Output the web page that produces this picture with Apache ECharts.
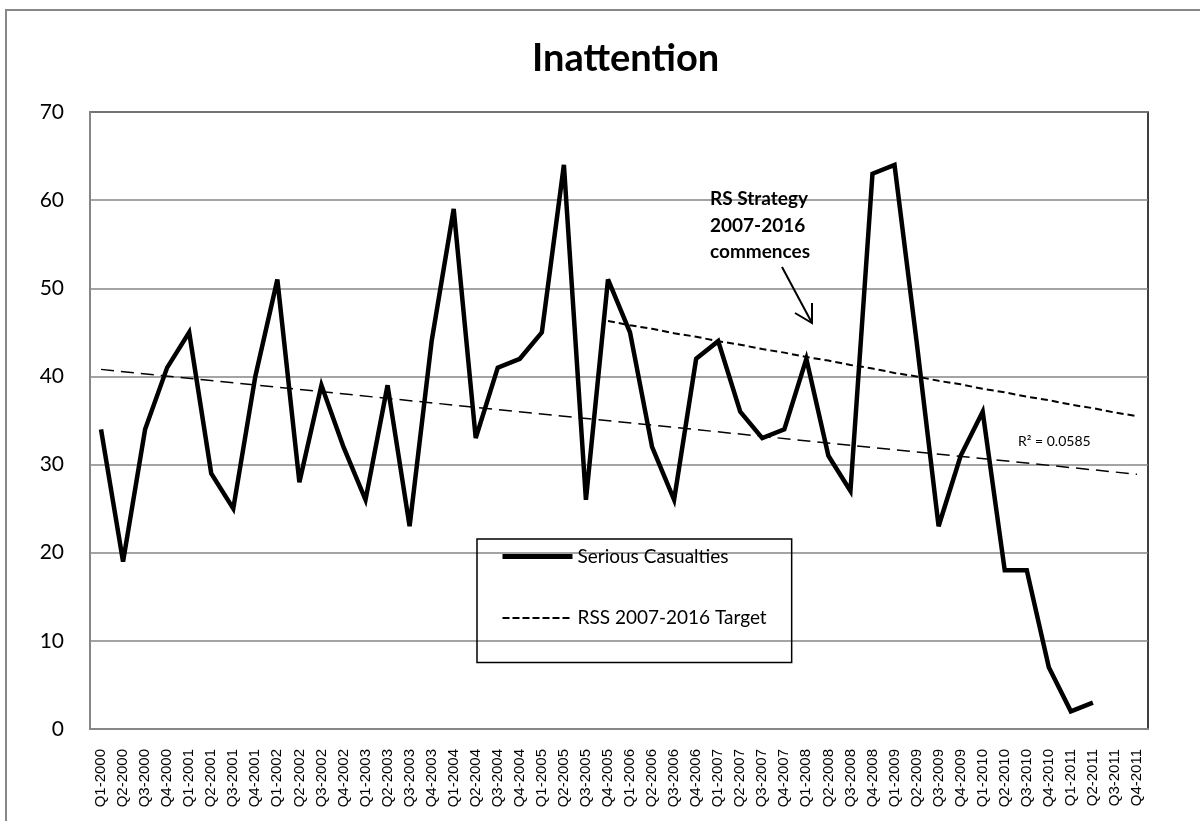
<!DOCTYPE html>
<html>
<head>
<meta charset="utf-8">
<script src="https://cdn.jsdelivr.net/npm/echarts@6/dist/echarts.min.js"></script>
<style>
html,body{margin:0;padding:0;background:#fff;}
#chart{width:1200px;height:821px;}
</style>
</head>
<body>
<div id="chart"></div>
<script>
// Category labels (quarters)
const categories = [
  'Q1-2000','Q2-2000','Q3-2000','Q4-2000','Q1-2001','Q2-2001','Q3-2001','Q4-2001',
  'Q1-2002','Q2-2002','Q3-2002','Q4-2002','Q1-2003','Q2-2003','Q3-2003','Q4-2003',
  'Q1-2004','Q2-2004','Q3-2004','Q4-2004','Q1-2005','Q2-2005','Q3-2005','Q4-2005',
  'Q1-2006','Q2-2006','Q3-2006','Q4-2006','Q1-2007','Q2-2007','Q3-2007','Q4-2007',
  'Q1-2008','Q2-2008','Q3-2008','Q4-2008','Q1-2009','Q2-2009','Q3-2009','Q4-2009',
  'Q1-2010','Q2-2010','Q3-2010','Q4-2010','Q1-2011','Q2-2011','Q3-2011','Q4-2011'
];

// Serious casualties, Q1-2000 .. Q2-2011
const seriousCasualties = [
  34,19,34,41,45,29,25,40,51,28,39,32,26,39,23,44,
  59,33,41,42,45,64,26,51,45,32,26,42,44,36,33,34,
  42,31,27,63,64,44,23,31,36,18,18,7,2,3
];

// RSS 2007-2016 target, Q4-2005 .. Q4-2011
const targetStart = 'Q4-2005';
const targetValues = [
  46.3,45.8,45.4,44.9,44.5,44.0,43.6,43.1,42.7,42.2,41.8,41.3,40.9,
  40.4,40.0,39.5,39.1,38.6,38.2,37.7,37.3,36.8,36.4,35.9,35.5
];

// Linear trendline end points
const trendCategories = ['Q1-2000','Q4-2011'];
const trendValues = [40.8, 28.9];

const yTicks = {min: 0, max: 70, interval: 10};

const titleText = 'Inattention';
const legendNames = ['Serious Casualties', 'RSS 2007-2016 Target'];
const annotationText = 'RS Strategy\n2007-2016\ncommences';
const r2Text = 'R\u00B2 = 0.0585';

const startIdx = categories.indexOf(targetStart);
const targetData = targetValues.map((v, i) => [categories[startIdx + i], v]);
const trendData = trendCategories.map((c, i) => [c, trendValues[i]]);

const hiddenSymbol = {opacity: 0, color: 'rgba(0,0,0,0)', borderWidth: 0};

const chart = echarts.init(document.getElementById('chart'), null, {renderer: 'canvas'});
chart.setOption({
  animation: false,
  backgroundColor: '#fff',
  title: {
    text: titleText,
    left: 527,
    top: 35,
    textStyle: {fontFamily: 'Lato', fontWeight: 'bold', fontSize: 38, color: '#000'}
  },
  grid: {
    left: 90, top: 112, right: 52, bottom: 92,
    show: true, borderColor: '#000', borderWidth: 1.5,
    containLabel: false, outerBoundsMode: 'none'
  },
  legend: {
    orient: 'vertical',
    left: 477, top: 539,
    padding: [8, 25, 35, 23],
    itemWidth: 70, itemHeight: 14, itemGap: 42.4,
    borderColor: '#000', borderWidth: 1.5,
    itemStyle: hiddenSymbol,
    textStyle: {fontFamily: 'Lato', fontSize: 19, color: '#000'},
    data: [
      {name: legendNames[0], itemStyle: hiddenSymbol, lineStyle: {width: 5, color: '#000'}},
      {name: legendNames[1], itemStyle: hiddenSymbol, lineStyle: {width: 2, color: '#000', type: [7, 3]}}
    ]
  },
  xAxis: {
    type: 'category',
    data: categories,
    boundaryGap: true,
    axisLine: {show: true, lineStyle: {color: '#868686', width: 2}},
    axisTick: {show: false},
    axisLabel: {
      interval: 0, rotate: 90, margin: 20,
      fontFamily: 'Liberation Sans', fontSize: 15, color: '#000'
    },
    splitLine: {show: false}
  },
  yAxis: {
    type: 'value',
    min: yTicks.min, max: yTicks.max, interval: yTicks.interval,
    axisLine: {show: true, lineStyle: {color: '#868686', width: 2}},
    axisTick: {show: false},
    axisLabel: {margin: 26, fontFamily: 'Lato', fontSize: 21, color: '#000'},
    splitLine: {show: true, lineStyle: {color: '#868686', width: 1.5}}
  },
  series: [
    {
      name: 'Linear trend',
      type: 'line',
      data: trendData,
      symbol: 'none',
      silent: true,
      lineStyle: {color: '#000', width: 1.5, type: [13, 7]},
      z: 3
    },
    {
      name: legendNames[1],
      type: 'line',
      data: targetData,
      symbol: 'none',
      lineStyle: {color: '#000', width: 2, type: [7, 4]},
      z: 3
    },
    {
      name: legendNames[0],
      type: 'line',
      data: seriousCasualties,
      symbol: 'none',
      lineStyle: {color: '#000', width: 4.5, join: 'miter', miterLimit: 4},
      z: 4
    }
  ],
  graphic: [
    {
      type: 'rect', silent: true, z: 0,
      shape: {x: 6, y: 10, width: 1250, height: 900},
      style: {fill: null, stroke: '#888', lineWidth: 2}
    },
    {
      type: 'text', z: 10,
      x: 710, y: 186,
      style: {
        text: annotationText, fontFamily: 'Lato', fontWeight: 'bold', fontSize: 19,
        lineHeight: 26.5, fill: '#000', textVerticalAlign: 'top'
      }
    },
    {
      type: 'polyline', z: 10,
      shape: {points: [[782, 267], [812, 323]]},
      style: {stroke: '#000', lineWidth: 2, fill: null}
    },
    {
      type: 'polyline', z: 10,
      shape: {points: [[795, 313], [812, 323], [812, 303]]},
      style: {stroke: '#000', lineWidth: 2, fill: null}
    },
    {
      type: 'text', z: 10,
      x: 1018, y: 441,
      style: {
        text: r2Text, fontFamily: 'Lato', fontSize: 14, fill: '#000',
        textVerticalAlign: 'middle'
      }
    }
  ]
});
</script>
</body>
</html>
